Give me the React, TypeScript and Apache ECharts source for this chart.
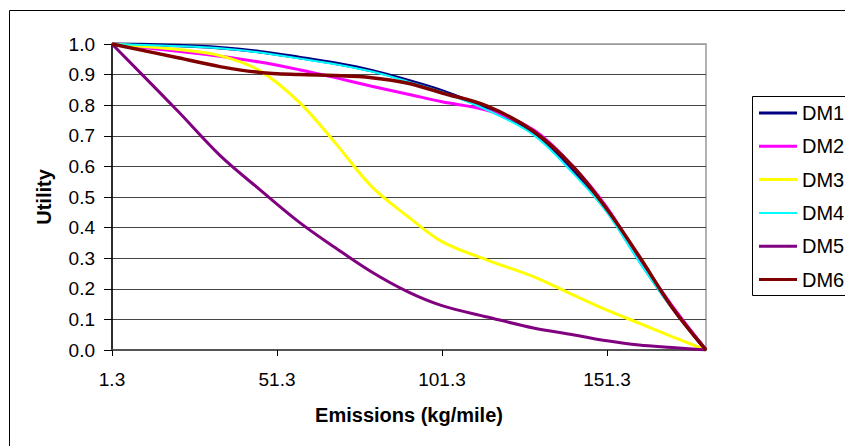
import React, { useEffect, useRef } from "react";
import * as echarts from "echarts";

const xValues = [1.3, 21.3, 34, 46, 58, 69, 80, 91, 101.3, 115, 129, 141, 151.3, 161, 171, 181.3];
const seriesNames = ["DM1", "DM2", "DM3", "DM4", "DM5", "DM6"];
const dm1 = [1.0, 0.995, 0.988, 0.975, 0.956, 0.937, 0.913, 0.881, 0.847, 0.788, 0.708, 0.584, 0.455, 0.295, 0.14, 0];
const dm2 = [1.0, 0.976, 0.96, 0.941, 0.916, 0.89, 0.862, 0.836, 0.811, 0.783, 0.72, 0.6, 0.465, 0.3, 0.145, 0];
const dm3 = [1.0, 0.982, 0.962, 0.913, 0.81, 0.676, 0.534, 0.436, 0.354, 0.294, 0.24, 0.18, 0.13, 0.088, 0.044, 0];
const dm4 = [1.0, 0.993, 0.986, 0.972, 0.953, 0.934, 0.91, 0.877, 0.843, 0.784, 0.703, 0.578, 0.45, 0.289, 0.137, 0];
const dm5 = [1.0, 0.78, 0.636, 0.525, 0.418, 0.334, 0.255, 0.19, 0.145, 0.108, 0.072, 0.05, 0.03, 0.016, 0.008, 0];
const dm6 = [1.0, 0.955, 0.926, 0.907, 0.9, 0.897, 0.89, 0.872, 0.84, 0.797, 0.715, 0.599, 0.46, 0.307, 0.14, 0];
const xTicks = [1.3, 51.3, 101.3, 151.3];
const seriesColors = ["#000080", "#FF00FF", "#FFFF00", "#00FFFF", "#800080", "#800000"];
const seriesWidths = [3.5, 3, 3, 2, 3, 3.5];

const FONT = "'Liberation Sans', Arial, sans-serif";

export default function App() {
  const ref = useRef<HTMLDivElement>(null);
  useEffect(() => {
    if (!ref.current) return;
    const chart = echarts.init(ref.current, null, { renderer: "svg" });
    const all = [dm1, dm2, dm3, dm4, dm5, dm6];
    const series = all.map((vals, i) => ({
      name: seriesNames[i],
      type: "line",
      data: xValues.map((x, j) => [x, vals[j]]),
      smooth: 0.35,
      showSymbol: false,
      symbol: "none",
      color: seriesColors[i],
      lineStyle: { color: seriesColors[i], width: seriesWidths[i] },
    }));
    const splitColors = Array.from({ length: 11 }, (_, i) => (i === 10 ? "#999999" : "#444444"));
    const legendData = seriesNames.map((n, i) => ({
      name: n,
      icon: i === 3 ? "path://M0,0H38V2H0Z" : "path://M0,0H38V3H0Z",
    }));
    chart.setOption({
      animation: false,
      backgroundColor: "#ffffff",
      textStyle: { fontFamily: FONT, color: "#000" },
      grid: {
        left: 112,
        right: 139,
        top: 44,
        bottom: 96,
        show: true,
        borderColor: "#999999",
        borderWidth: 1.5,
      },
      legend: {
        orient: "vertical",
        left: 759,
        top: 103,
        padding: 0,
        itemGap: 13.3,
        itemWidth: 38,
        itemHeight: 20,
        symbolKeepAspect: true,
        textStyle: { fontFamily: FONT, fontSize: 20, color: "#000" },
        data: legendData,
      },
      xAxis: {
        type: "value",
        min: 1.3,
        max: 181.3,
        name: "Emissions (kg/mile)",
        nameLocation: "middle",
        nameGap: 55,
        nameTextStyle: { fontFamily: FONT, fontSize: 20, fontWeight: "bold", color: "#000" },
        axisLine: { show: true, lineStyle: { color: "#555555", width: 2 } },
        axisTick: { show: true, length: 6, customValues: xTicks, lineStyle: { color: "#000" } },
        axisLabel: {
          customValues: xTicks,
          margin: 20,
          fontFamily: FONT,
          fontSize: 19,
          color: "#000",
          formatter: (v: number) => v.toFixed(1),
        },
        splitLine: { show: false },
      },
      yAxis: {
        type: "value",
        min: 0,
        max: 1,
        interval: 0.1,
        name: "Utility",
        nameLocation: "middle",
        nameGap: 58,
        nameRotate: 90,
        nameTextStyle: { fontFamily: FONT, fontSize: 20, fontWeight: "bold", color: "#000" },
        axisLine: { show: true, lineStyle: { color: "#000", width: 1.5 } },
        axisTick: { show: true, length: 8, lineStyle: { color: "#000" } },
        axisLabel: {
          margin: 17,
          fontFamily: FONT,
          fontSize: 19,
          color: "#000",
          formatter: (v: number) => v.toFixed(1),
        },
        splitLine: { show: true, lineStyle: { color: splitColors, width: 1.2 } },
      },
      graphic: [
        {
          type: "rect",
          z: -10,
          shape: { x: 9.5, y: 10.5, width: 1000, height: 1000 },
          style: { fill: "none", stroke: "#000", lineWidth: 1 },
          silent: true,
        },
        {
          type: "rect",
          z: -10,
          shape: { x: 752.5, y: 96.5, width: 200, height: 199 },
          style: { fill: "#fff", stroke: "#000", lineWidth: 1 },
          silent: true,
        },
      ],
      series,
    });
    return () => chart.dispose();
  }, []);
  return (
    <div
      ref={ref}
      style={{ position: "fixed", left: 0, top: 0, width: 845, height: 446, background: "#fff" }}
    />
  );
}
